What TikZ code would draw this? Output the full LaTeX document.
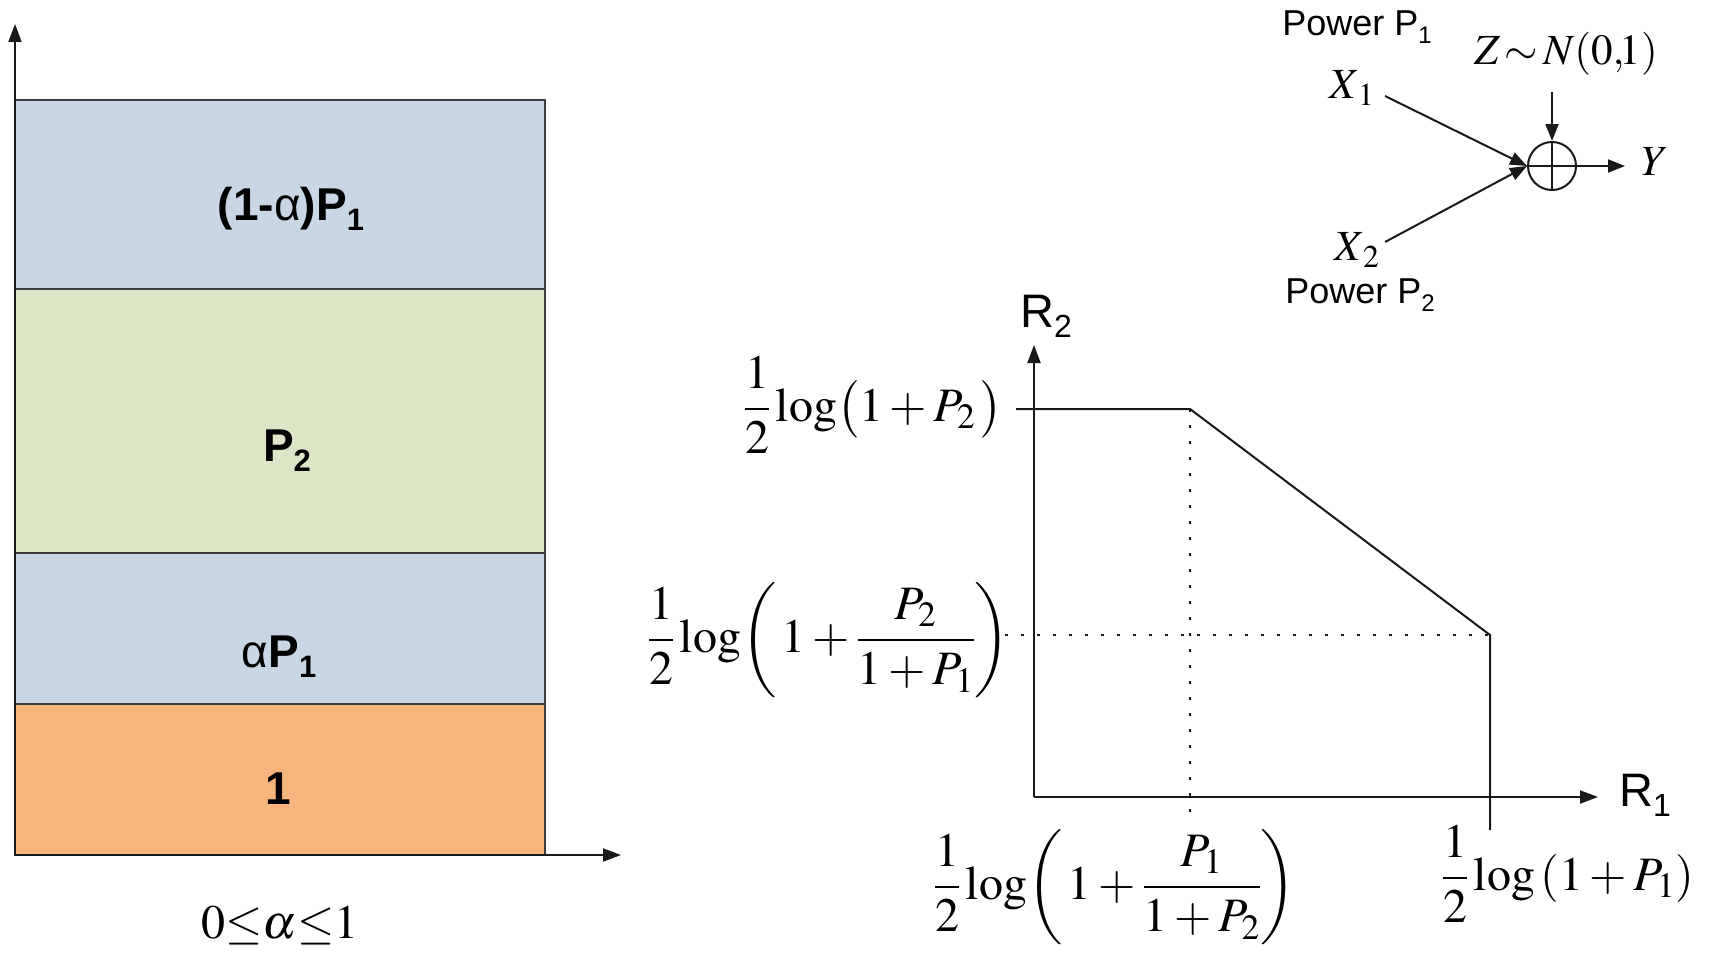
\documentclass[tikz,border=0pt]{standalone}
\usepackage{mathptmx}
\usepackage[no-math]{fontspec}
\newfontfamily\arial{Liberation Sans}
\usetikzlibrary{arrows.meta}
\newcommand\fsz[1]{\fontsize{#1}{#1}\selectfont}
\newcommand\subtxt[2]{\raisebox{-0.22em}{\fontsize{#1}{#1}\selectfont #2}}
\definecolor{blueA}{RGB}{201,214,229}
\definecolor{greenA}{RGB}{221,229,199}
\definecolor{orangeA}{RGB}{247,180,124}
\definecolor{edgeA}{RGB}{60,60,60}
\definecolor{inkA}{RGB}{25,25,25}
\tikzset{
  blk/.style={draw=edgeA, line width=2pt},
  ax/.style={draw=inkA, line width=2pt, -{Triangle[length=18pt,width=13pt]}},
  arr/.style={draw=inkA, line width=2pt, -{Triangle[length=17pt,width=13pt]}},
  lab/.style={inner sep=0pt, outer sep=0pt},
  bl/.style={lab, font=\arial\fsz{46}\bfseries},
  sl/.style={lab, font=\arial\fsz{36}},
  rl/.style={lab, font=\arial\fsz{47}},
  ml/.style={lab, font=\fsz{48}, anchor=base west},
  cl/.style={lab, font=\fsz{43}},
  curve/.style={draw=inkA, line width=2pt},
  dotl/.style={draw=inkA, line width=2.6pt, dash pattern=on 2.6pt off 13.4pt},
}
\begin{document}
\begin{tikzpicture}[x=1pt,y=-1pt]
\useasboundingbox (0,0) rectangle (1723,958);
% ---------- left: power stack ----------
\draw[blk, fill=blueA]   (15,100) rectangle (545,289);
\draw[blk, fill=greenA]  (15,289) rectangle (545,553);
\draw[blk, fill=blueA]   (15,553) rectangle (545,704);
\draw[blk, fill=orangeA] (15,704) rectangle (545,855);
\coordinate (o) at (15,855);
\coordinate (ytip) at (15,24);
\coordinate (xtip) at (621,855);
\draw[ax] (o) -- (ytip);
\draw[ax] (o) -- (xtip);
\node[bl] (b1) at (291,209) {(1-{\mdseries α})P\subtxt{31}{1}};
\node[bl] (b2) at (287,451) {P\subtxt{31}{2}};
\node[bl] (b3) at (279,657) {{\mdseries α}P\subtxt{31}{1}};
\node[bl] (b4) at (278,789) {1};
\node[lab, font=\fsz{48}] (alpha) at (280,926) {$0{\leq}\alpha{\leq}1$};
% ---------- channel ----------
\node[sl] (pw1) at (1357,27) {Power P\subtxt{24}{1}};
\node[cl] (x1) at (1352,88) {$X_{\,1}$};
\node[cl] (x2) at (1357,250) {$X_{\,2}$};
\node[sl] (pw2) at (1360,295) {Power P\subtxt{24}{2}};
\node[cl] (z) at (1566,54) {$Z{\,\sim\,}N(0{,}\!1)$};
\node[cl] (y) at (1655,162) {$Y$};
\node[draw=inkA, line width=2pt, circle, minimum size=48pt, inner sep=0pt] (sum) at (1552,166) {};
\draw[curve] (sum.north) -- (sum.south);
\draw[curve] (sum.west) -- (sum.east);
\coordinate (x1s) at (1385,96);
\coordinate (x2s) at (1385,242);
\coordinate (zs) at (1552,92);
\coordinate (ye) at (1625,166);
\draw[arr] (x1s) -- (sum.west);
\draw[arr] (x2s) -- (sum.west);
\draw[arr] (zs) -- (sum.north);
\draw[arr] (sum.east) -- (ye);
% ---------- rate region ----------
\coordinate (org) at (1034,797);
\coordinate (r2tip) at (1034,345);
\coordinate (r1tip) at (1598,797);
\draw[ax] (org) -- (r2tip);
\draw[ax] (org) -- (r1tip);
\node[rl] (r2) at (1046,316) {R\subtxt{32}{2}};
\node[rl] (r1) at (1645,795) {R\subtxt{32}{1}};
\coordinate (ta) at (1016,409);
\coordinate (tb) at (1190,409);
\coordinate (tc) at (1490,635);
\coordinate (td) at (1490,830);
\draw[curve] (ta) -- (tb) -- (tc) -- (td);
\coordinate (da) at (1190,813);
\coordinate (db) at (1005,635);
\draw[dotl] (tb) -- (da);
\draw[dotl] (db) -- (tc);
\node[ml] (l1) at (744,421) {$\displaystyle\frac{1}{2}\log\bigl(1+P_{2}\,\bigr)$};
\node[ml] (l2) at (648,652) {$\displaystyle\frac{1}{2}\log\!\left(\,1+\frac{P_2}{1+P_1}\right)$};
\node[ml] (l3) at (934,899) {$\displaystyle\frac{1}{2}\log\!\left(\,1+\frac{P_1}{1+P_2}\right)$};
\node[ml] (l4) at (1442,890) {$\displaystyle\frac{1}{2}\log\,(1+P_1)$};
\end{tikzpicture}
\end{document}
